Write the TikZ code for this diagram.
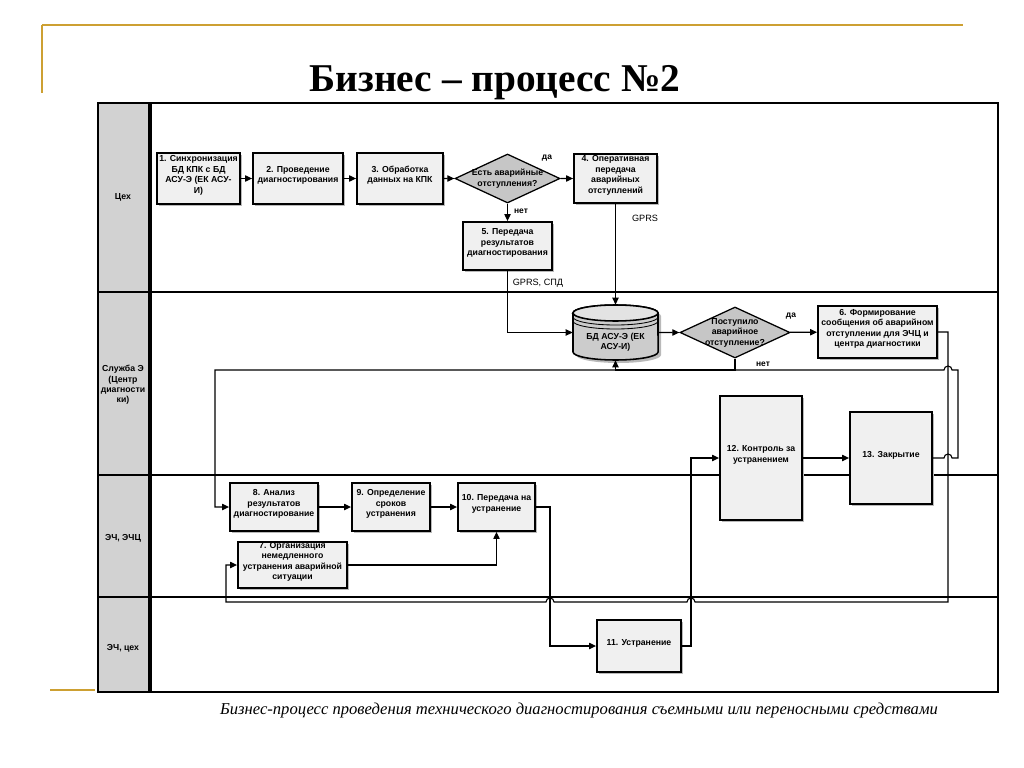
\documentclass[tikz,border=0pt]{standalone}
\usepackage{fontspec}
\setmainfont{Liberation Sans}
\newfontfamily\serifcap{Liberation Serif}
\usetikzlibrary{arrows.meta,shapes.geometric,fit,shadows}
\definecolor{gold}{RGB}{205,160,50}
\begin{document}
\begin{tikzpicture}[x=0.025cm,y=-0.025cm,
  font=\fontsize{6.2}{7.4}\selectfont\bfseries, align=center,
  box/.style={draw, line width=1.3pt, fill=gray!12, inner sep=0pt,
    drop shadow={shadow xshift=1.5pt, shadow yshift=-1.5pt, fill=gray!55, opacity=1}},
  dia/.style={diamond, draw, line width=0.9pt, fill=gray!45, inner sep=0pt},
  conn/.style={line width=0.8pt},
  arr/.style={conn, -{Triangle[length=5pt,width=4.5pt]}},
  lbl/.style={font=\fontsize{6}{7}\selectfont\bfseries},
  plain/.style={font=\fontsize{6.5}{7.5}\selectfont\mdseries},
  lane/.style={line width=1.1pt},
  goldline/.style={gold, line width=1.5pt}]
\useasboundingbox (0,0) rectangle (1024,768);
\fill[white] (0,0) rectangle (1024,768);

% decorative gold lines
\draw[goldline] (42,25) -- (963,25);
\draw[goldline] (42,25) -- (42,93);
\draw[goldline] (50,690) -- (95,690);

% title
\node[font=\serifcap\bfseries\fontsize{28}{30}\selectfont] (title) at (495,83) {Бизнес – процесс №2};

% swimlane frame
\fill[gray!35] (98,103) rectangle (149,692);
\draw[line width=1.2pt] (98,103) rectangle (998,692);
\draw[line width=2.2pt] (150,103) -- (150,692);
\draw[lane] (98,292) -- (998,292);
\draw[lane] (98,475) -- (998,475);
\draw[lane] (98,597) -- (998,597);

\node (l1) at (123,197) {Цех};
\node (l2) at (123,385) {Служба Э\\(Центр\\диагности\\ки)};
\node (l3) at (123,538) {ЭЧ, ЭЧЦ};
\node (l4) at (123,648) {ЭЧ, цех};

% lane 1
\node[box, fit={(157,153) (240,204)}] (n1) {1. Синхронизация\\БД КПК с БД\\АСУ-Э (ЕК АСУ-\\И)};
\node[box, fit={(253,153) (343,204)}] (n2) {2. Проведение\\диагностирования};
\node[box, fit={(357,153) (443,204)}] (n3) {3. Обработка\\данных на КПК};
\node[dia, minimum width=2.625cm, minimum height=1.225cm] (d1) at (507.5,178.5) {};
\node (d1t) at (d1.center) {Есть аварийные\\отступления?};
\node[box, fit={(574,154) (657,203)}] (n4) {4. Оперативная\\передача\\аварийных\\отступлений};
\node[box, fit={(463,222) (552,270)}] (n5) {5. Передача\\результатов\\диагностирования};

% lane 2
\node[inner sep=0pt, fit={(573,305) (658,360)}] (db) {};
\fill[gray!55] (576,316) -- (576,355) arc[start angle=180,end angle=360,x radius=1.0625cm,y radius=0.2cm]
  -- (661,316) arc[start angle=0,end angle=180,x radius=1.0625cm,y radius=0.2cm] -- cycle;
\filldraw[fill=gray!40, line width=1.1pt] (573,313) -- (573,352)
  arc[start angle=180,end angle=360,x radius=1.0625cm,y radius=0.2cm]
  -- (658,313) arc[start angle=0,end angle=180,x radius=1.0625cm,y radius=0.2cm] -- cycle;
\draw[fill=gray!22, line width=1.1pt] (615.5,313) ellipse[x radius=1.0625cm, y radius=0.2cm];
\draw[line width=0.6pt] (573,317) arc[start angle=180,end angle=360,x radius=1.0625cm,y radius=0.2cm];
\draw[line width=0.6pt] (573,321) arc[start angle=180,end angle=360,x radius=1.0625cm,y radius=0.2cm];
\node (dbt) at (615.5,342) {БД АСУ-Э (ЕК\\АСУ-И)};
\node[dia, minimum width=2.75cm, minimum height=1.275cm] (d2) at (735,332.5) {};
\node (d2t) at (d2.center) {Поступило\\аварийное\\отступление?};
\node[box, fit={(818,306) (937,358)}] (n6) {6. Формирование\\сообщения об аварийном\\отступлении для ЭЧЦ и\\центра диагностики};
\node[box, fit={(720,396) (802,520)}] (n12) {12. Контроль за\\устранением};
\node[box, fit={(850,412) (932,504)}] (n13) {13. Закрытие};

% lane 3
\node[box, fit={(230,483) (318,531)}] (n8) {8. Анализ\\результатов\\диагностирование};
\node[box, fit={(352,483) (430,531)}] (n9) {9. Определение\\сроков\\устранения};
\node[box, fit={(458,483) (535,531)}] (n10) {10. Передача на\\устранение};
\node[box, fit={(238,542) (347,588)}] (n7) {7. Организация\\немедленного\\устранения аварийной\\ситуации};

% lane 4
\node[box, fit={(597,620) (681,672)}] (n11) {11. Устранение};

% helper coordinates
\coordinate (h370) at (0,370);

% connectors
\draw[arr] (n1) -- (n2);
\draw[arr] (n2) -- (n3);
\draw[arr] (n3) -- (d1);
\draw[arr] (d1) -- (n4);
\draw[arr] (d1) -- (n5);
\draw[arr] (n4) -- (db);
\draw[arr] (n5) |- (db);
\draw[arr] (db) -- (d2);
\draw[arr] (d2) -- (n6);
\draw[arr] (d2.south) -- (d2.south |- h370) -| (db.south);
\draw[arr] (n6.east) -| (948,602) -- (695,602) arc[start angle=0,end angle=180,radius=0.1cm]
  -- (554,602) arc[start angle=0,end angle=180,radius=0.1cm] -- (226,602) |- (n7.west);
\draw[arr] (n13.east) -- (944,458) arc[start angle=180,end angle=0,radius=0.1cm] -- (958,458)
  -- (958,370) -- (952,370) arc[start angle=0,end angle=180,radius=0.1cm] -- (215,370) |- (n8.west);
\draw[arr] (n8) -- (n9);
\draw[arr] (n9) -- (n10);
\draw[arr] (n7) -| (n10);
\draw[arr] (n10.east) -- (550,507) |- (n11.west);
\draw[arr] (n11.east) -- (691,646) |- (n12.west);
\draw[arr] (n12) -- (n13);

% connector labels
\node[lbl] (da1) at (547,158) {да};
\node[lbl] (net1) at (521,211) {нет};
\node[plain] (gprs1) at (645,218) {GPRS};
\node[plain] (gprs2) at (538,283) {GPRS, СПД};
\node[lbl] (da2) at (791,316) {да};
\node[lbl] (net2) at (763,364) {нет};

% caption
\node[font=\serifcap\itshape\fontsize{11.8}{14}\selectfont] (cap) at (579,711) {Бизнес-процесс проведения технического диагностирования съемными или переносными средствами};
\end{tikzpicture}
\end{document}
